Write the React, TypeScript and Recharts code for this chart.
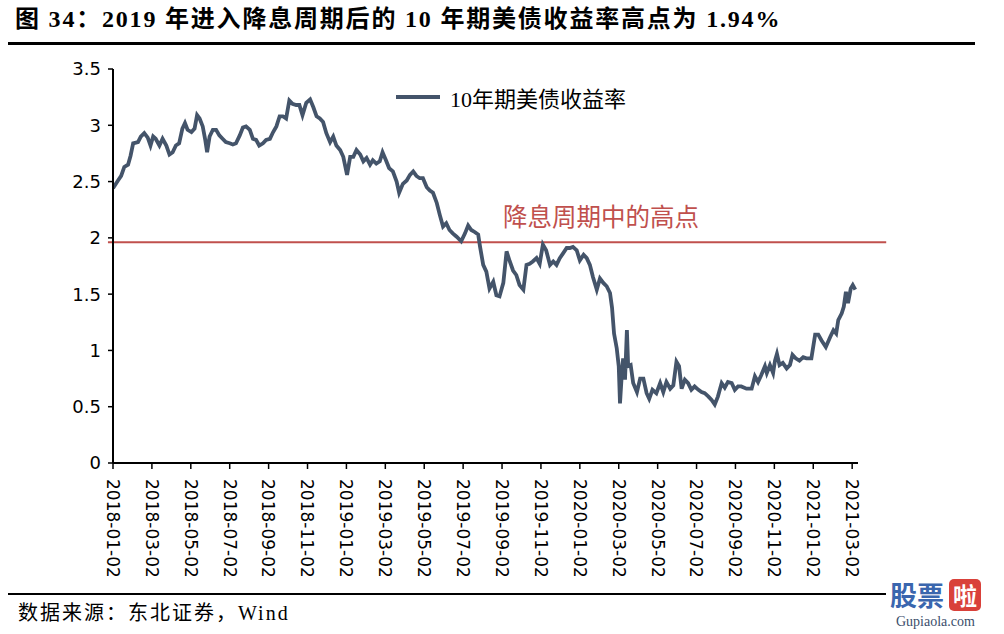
import React from 'react';
import { LineChart, Line, XAxis, YAxis, ReferenceLine, Legend } from 'recharts';

const dates: string[] = [
  '2018-01-02','2018-01-10','2018-01-15','2018-01-20','2018-01-26','2018-01-30','2018-02-03','2018-02-10','2018-02-14','2018-02-19',
  '2018-02-24','2018-02-28','2018-03-04','2018-03-08','2018-03-14','2018-03-19','2018-03-25','2018-03-30','2018-04-04','2018-04-09',
  '2018-04-14','2018-04-19','2018-04-23','2018-04-27','2018-05-03','2018-05-08','2018-05-12','2018-05-16','2018-05-21','2018-05-25',
  '2018-05-28','2018-06-01','2018-06-06','2018-06-11','2018-06-16','2018-06-21','2018-06-26','2018-07-02','2018-07-07','2018-07-12',
  '2018-07-18','2018-07-23','2018-07-28','2018-08-03','2018-08-08','2018-08-13','2018-08-18','2018-08-24','2018-08-29','2018-09-04',
  '2018-09-09','2018-09-14','2018-09-19','2018-09-24','2018-09-29','2018-10-04','2018-10-09','2018-10-15','2018-10-20','2018-10-25',
  '2018-10-31','2018-11-06','2018-11-11','2018-11-16','2018-11-21','2018-11-26','2018-12-01','2018-12-07','2018-12-12','2018-12-17',
  '2018-12-23','2018-12-28','2019-01-03','2019-01-08','2019-01-13','2019-01-18','2019-01-24','2019-01-29','2019-02-03','2019-02-08',
  '2019-02-12','2019-02-17','2019-02-22','2019-02-26','2019-03-03','2019-03-08','2019-03-14','2019-03-20','2019-03-24','2019-03-30',
  '2019-04-05','2019-04-10','2019-04-15','2019-04-20','2019-04-25','2019-04-30','2019-05-06','2019-05-11','2019-05-16','2019-05-22',
  '2019-05-27','2019-06-01','2019-06-06','2019-06-11','2019-06-16','2019-06-22','2019-06-29','2019-07-05','2019-07-10','2019-07-15',
  '2019-07-21','2019-07-26','2019-07-29','2019-08-03','2019-08-08','2019-08-13','2019-08-19','2019-08-24','2019-08-29','2019-09-04',
  '2019-09-09','2019-09-14','2019-09-19','2019-09-24','2019-09-29','2019-10-05','2019-10-10','2019-10-15','2019-10-20','2019-10-26',
  '2019-10-31','2019-11-05','2019-11-10','2019-11-16','2019-11-21','2019-11-26','2019-12-01','2019-12-06','2019-12-12','2019-12-17',
  '2019-12-22','2019-12-28','2020-01-02','2020-01-08','2020-01-13','2020-01-18','2020-01-23','2020-01-29','2020-02-03','2020-02-08',
  '2020-02-13','2020-02-18','2020-02-21','2020-02-24','2020-02-28','2020-03-02','2020-03-04','2020-03-07','2020-03-09','2020-03-12',
  '2020-03-15','2020-03-17','2020-03-21','2020-03-25','2020-03-31','2020-04-05','2020-04-10','2020-04-15','2020-04-19','2020-04-24',
  '2020-04-30','2020-05-06','2020-05-11','2020-05-16','2020-05-22','2020-05-27','2020-06-01','2020-06-05','2020-06-09','2020-06-14',
  '2020-06-19','2020-06-24','2020-06-29','2020-07-05','2020-07-10','2020-07-15','2020-07-21','2020-07-26','2020-07-31','2020-08-05',
  '2020-08-11','2020-08-16','2020-08-21','2020-08-27','2020-09-01','2020-09-06','2020-09-11','2020-09-19','2020-09-27','2020-10-02',
  '2020-10-07','2020-10-12','2020-10-18','2020-10-21','2020-10-26','2020-10-31','2020-11-03','2020-11-06','2020-11-10','2020-11-15',
  '2020-11-21','2020-11-26','2020-11-30','2020-12-05','2020-12-11','2020-12-17','2020-12-22','2020-12-30','2021-01-05','2021-01-10',
  '2021-01-15','2021-01-22','2021-01-29','2021-02-03','2021-02-07','2021-02-10','2021-02-15','2021-02-18','2021-02-21','2021-02-24',
  '2021-02-28','2021-03-03','2021-03-07',
];

const yields: number[] = [
  2.44,2.51,2.55,2.63,2.65,2.73,2.84,2.85,2.90,2.93,
  2.89,2.82,2.90,2.88,2.82,2.88,2.82,2.74,2.76,2.82,
  2.84,2.97,3.02,2.96,2.94,2.97,3.09,3.06,2.99,2.87,
  2.76,2.90,2.96,2.96,2.91,2.88,2.85,2.84,2.83,2.84,
  2.91,2.98,2.99,2.96,2.88,2.87,2.82,2.84,2.87,2.88,
  2.94,2.99,3.08,3.08,3.06,3.22,3.19,3.18,3.18,3.09,
  3.20,3.23,3.16,3.08,3.06,3.03,2.93,2.85,2.90,2.82,
  2.78,2.72,2.56,2.72,2.72,2.78,2.74,2.68,2.71,2.65,
  2.69,2.66,2.68,2.76,2.69,2.62,2.59,2.50,2.40,2.48,
  2.51,2.56,2.59,2.55,2.53,2.53,2.45,2.42,2.40,2.31,
  2.20,2.10,2.13,2.07,2.04,2.01,1.97,2.04,2.11,2.07,
  2.05,2.03,1.92,1.76,1.70,1.55,1.61,1.49,1.48,1.60,
  1.88,1.79,1.71,1.67,1.58,1.54,1.76,1.77,1.79,1.82,
  1.77,1.94,1.89,1.76,1.79,1.76,1.82,1.86,1.91,1.91,
  1.92,1.89,1.80,1.85,1.82,1.76,1.65,1.54,1.64,1.60,
  1.57,1.51,1.38,1.15,1.02,0.86,0.53,0.80,0.93,0.74,
  1.18,0.86,0.87,0.71,0.63,0.75,0.75,0.62,0.57,0.65,
  0.62,0.71,0.63,0.72,0.66,0.69,0.90,0.86,0.66,0.74,
  0.71,0.65,0.68,0.65,0.63,0.62,0.59,0.56,0.52,0.59,
  0.71,0.67,0.72,0.71,0.65,0.68,0.68,0.66,0.66,0.77,
  0.72,0.78,0.86,0.80,0.87,0.80,0.91,0.97,0.87,0.89,
  0.84,0.87,0.96,0.93,0.91,0.94,0.93,0.93,1.14,1.14,
  1.09,1.03,1.12,1.18,1.15,1.27,1.33,1.39,1.52,1.42,
  1.55,1.58,1.54,
];

const tickLabels: string[] = [
  '2018-01-02','2018-03-02','2018-05-02','2018-07-02','2018-09-02','2018-11-02',
  '2019-01-02','2019-03-02','2019-05-02','2019-07-02','2019-09-02','2019-11-02',
  '2020-01-02','2020-03-02','2020-05-02','2020-07-02','2020-09-02','2020-11-02',
  '2021-01-02','2021-03-02',
];

const yTicks: number[] = [0, 0.5, 1, 1.5, 2, 2.5, 3, 3.5];
const cycleHigh = 1.96;
const seriesName = '10年期美债收益率';

// month position on an evenly spaced monthly axis (Excel-like date axis)
const monthPos = (d: string): number => {
  const [y, m, dd] = d.split('-').map(Number);
  const dim = new Date(Date.UTC(y, m, 0)).getUTCDate();
  return (y - 2018) * 12 + (m - 1) + (dd - 2) / dim;
};

const data = dates.map((d, i) => ({ t: monthPos(d), date: d, v: yields[i] }));
const tickPositions = tickLabels.map(monthPos);
const labelByPos = new Map<number, string>(tickLabels.map((l) => [monthPos(l), l]));

const LINE_COLOR = '#44546A';
const RED = '#C0504D';

const XTick = (props: any) => {
  const { x, y, payload } = props;
  return (
    <g transform={`translate(${x},${y + 8}) rotate(90)`}>
      <text x={0} y={0} dy="0.36em" textAnchor="start" fontSize={17} fill="#000" fontFamily="'DejaVu Sans', sans-serif">
        {labelByPos.get(payload.value) ?? ''}
      </text>
    </g>
  );
};

const LegendContent = () => (
  <div style={{ display: 'flex', alignItems: 'center', whiteSpace: 'nowrap' }}>
    <div style={{ width: 44, height: 4, background: LINE_COLOR, marginRight: 10 }} />
    <span style={{ fontSize: 22, fontFamily: "'Liberation Serif', 'Noto Sans CJK SC', serif", color: '#000' }}>{seriesName}</span>
  </div>
);

export default function App() {
  return (
    <div style={{ position: 'absolute', left: 0, top: 0, width: 1004, height: 634, background: '#fff', overflow: 'hidden' }}>
      <div style={{ position: 'absolute', left: 15, top: 3, fontSize: 24, letterSpacing: 1.8, fontWeight: 'bold', fontFamily: "'Liberation Serif', 'Noto Sans CJK SC', serif", color: '#000', whiteSpace: 'nowrap', lineHeight: '32px' }}>
        图 34：2019 年进入降息周期后的 10 年期美债收益率高点为 1.94%
      </div>
      <div style={{ position: 'absolute', left: 8, top: 42, width: 967, height: 3, background: '#000' }} />

      <div style={{ position: 'absolute', left: 0, top: 0 }}>
        <LineChart width={1004} height={634} data={data} margin={{ top: 69, right: 146, bottom: 61, left: 53 }}>
          <XAxis
            dataKey="t"
            type="number"
            domain={[0, 38.3]}
            ticks={tickPositions}
            interval={0}
            tick={<XTick />}
            tickSize={6}
            height={110}
            axisLine={{ stroke: '#000', strokeWidth: 2 }}
            tickLine={{ stroke: '#000', strokeWidth: 1.5 }}
            allowDataOverflow
          />
          <YAxis
            type="number"
            domain={[0, 3.5]}
            ticks={yTicks}
            width={60}
            tickSize={5}
            tickMargin={7}
            axisLine={{ stroke: '#000', strokeWidth: 2 }}
            tickLine={{ stroke: '#000', strokeWidth: 1.5 }}
            tick={{ fontSize: 18, fill: '#000', fontFamily: "'DejaVu Sans', sans-serif" }}
          />
          <ReferenceLine
            segment={[{ x: -0.26, y: cycleHigh }, { x: 39.75, y: cycleHigh }]}
            stroke={RED}
            strokeWidth={2}
            ifOverflow="visible"
          />
          <Line
            type="linear"
            dataKey="v"
            name={seriesName}
            stroke={LINE_COLOR}
            strokeWidth={3.8}
            dot={false}
            isAnimationActive={false}
          />
          <Legend
            layout="horizontal"
            verticalAlign="middle"
            align="center"
            content={<LegendContent />}
            wrapperStyle={{ left: 396, top: 81, width: 300, height: 30 }}
          />
        </LineChart>
      </div>

      <div style={{ position: 'absolute', left: 503, top: 201, fontSize: 24.5, color: RED, fontFamily: "'Noto Sans CJK SC', sans-serif", whiteSpace: 'nowrap', lineHeight: '30px' }}>
        降息周期中的高点
      </div>

      <div style={{ position: 'absolute', left: 8, top: 593, width: 967, height: 2, background: '#000' }} />
      <div style={{ position: 'absolute', left: 18, top: 597, fontSize: 20, letterSpacing: 2, fontFamily: "'Liberation Serif', 'Noto Sans CJK SC', serif", color: '#000', whiteSpace: 'nowrap' }}>
        数据来源：东北证券，Wind
      </div>

      <div style={{ position: 'absolute', left: 886, top: 576, width: 118, height: 58, background: '#fff' }}>
        <div style={{ display: 'flex', alignItems: 'center', height: 38, paddingLeft: 4, overflow: 'hidden' }}>
          <span style={{ fontSize: 27, fontWeight: 'bold', color: '#3A66AE', fontFamily: "'Noto Sans CJK SC', sans-serif", lineHeight: '32px' }}>股票</span>
          <span style={{ marginLeft: 5, fontSize: 24, fontWeight: 'bold', color: '#fff', background: '#D9413A', borderRadius: 5, padding: '0 4px', fontFamily: "'Noto Sans CJK SC', sans-serif", lineHeight: '32px' }}>啦</span>
        </div>
        <div style={{ fontSize: 14, color: '#3B4E6B', fontFamily: "'Liberation Serif', serif", paddingLeft: 10, lineHeight: '16px' }}>Gupiaola.com</div>
      </div>
    </div>
  );
}
